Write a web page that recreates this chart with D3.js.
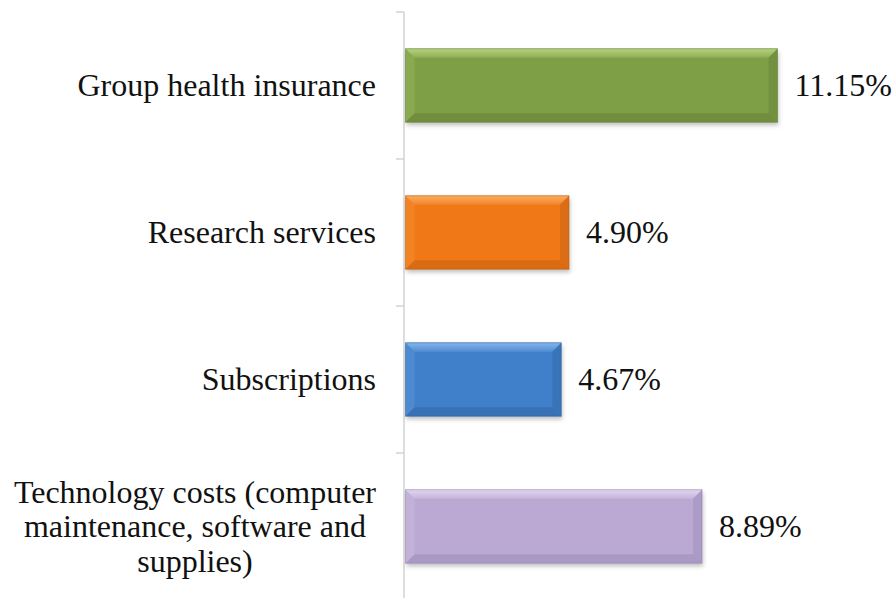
<!DOCTYPE html>
<html>
<head>
<meta charset="utf-8">
<script src="https://cdn.jsdelivr.net/npm/d3@7/dist/d3.min.js"></script>
<style>
  html, body { margin: 0; padding: 0; background: #fff; }
  svg { display: block; }
  text { font-family: "Liberation Serif", "Times New Roman", serif; fill: #111; }
</style>
</head>
<body>
<div id="chart"></div>
<script>
// data, top to bottom
const categories = [
  ['Group health insurance'],
  ['Research services'],
  ['Subscriptions'],
  ['Technology costs (computer', 'maintenance, software and', 'supplies)']
];
const values = [11.15, 4.90, 4.67, 8.89];
const valueLabels = ['11.15%', '4.90%', '4.67%', '8.89%'];
// main / light / dark shade of each bar
const barColors = [
  { main: '#7f9f46', light: '#b9d77f', dark: '#56702c' },
  { main: '#f07819', light: '#fcae62', dark: '#b0560f' },
  { main: '#3f7fc9', light: '#86b8ee', dark: '#2a5a93' },
  { main: '#bba9d4', light: '#e2d9f1', dark: '#8a7aa6' }
];

const width = 896, height = 598;
const axisX = 404;
const fontSize = 32;

const svg = d3.select('#chart').append('svg')
  .attr('width', width)
  .attr('height', height);

const defs = svg.append('defs');
const shadow = defs.append('filter').attr('id', 'shadow')
  .attr('x', '-5%').attr('y', '-10%').attr('width', '115%').attr('height', '130%');
shadow.append('feDropShadow')
  .attr('dx', 1).attr('dy', 3).attr('stdDeviation', 2)
  .attr('flood-color', '#000').attr('flood-opacity', 0.25);

const idx = d3.range(values.length);

const y = d3.scaleBand()
  .domain(idx)
  .range([12, 600])
  .paddingInner(0.5)
  .paddingOuter(0.25);

const x = d3.scaleLinear()
  .domain([0, 14])
  .range([axisX + 1.5, axisX + 1.5 + 14 * 33.36]);

// axis line + ticks at category boundaries
const axisG = svg.append('g').attr('stroke', '#cccccc').attr('stroke-width', 1.3);
axisG.append('line')
  .attr('x1', axisX).attr('x2', axisX)
  .attr('y1', y.range()[0]).attr('y2', y.range()[1]);
d3.range(values.length + 1).forEach(i => {
  const ty = y.range()[0] + i * y.step();
  axisG.append('line')
    .attr('x1', axisX - 8).attr('x2', axisX)
    .attr('y1', ty).attr('y2', ty);
});

// bars with soft bevel
const bev = 9;
const bars = svg.append('g').selectAll('g')
  .data(idx)
  .enter()
  .append('g');

bars.each(function(i) {
  const g = d3.select(this);
  const x0 = x(0), x1 = x(values[i]);
  const y0 = y(i), y1 = y(i) + y.bandwidth();
  const c = barColors[i];

  // vertical gradient for the top bevel
  const gid = 'top' + i;
  const lg = defs.append('linearGradient').attr('id', gid)
    .attr('x1', 0).attr('x2', 0).attr('y1', 0).attr('y2', 1);
  lg.append('stop').attr('offset', 0).attr('stop-color', c.light).attr('stop-opacity', 0.95);
  lg.append('stop').attr('offset', 1).attr('stop-color', c.light).attr('stop-opacity', 0.25);

  g.append('rect')
    .attr('x', x0).attr('y', y0)
    .attr('width', x1 - x0).attr('height', y1 - y0)
    .attr('fill', c.main)
    .attr('filter', 'url(#shadow)');

  const poly = (pts, fill, op) => g.append('polygon')
    .attr('points', pts.map(p => p.join(',')).join(' '))
    .attr('fill', fill)
    .attr('opacity', op);

  poly([[x0, y0], [x1, y0], [x1 - bev, y0 + bev], [x0 + bev, y0 + bev]], `url(#${gid})`, 1);
  poly([[x0, y1], [x1, y1], [x1 - bev, y1 - bev], [x0 + bev, y1 - bev]], c.dark, 0.35);
  poly([[x0, y0], [x0 + bev, y0 + bev], [x0 + bev, y1 - bev], [x0, y1]], c.light, 0.2);
  poly([[x1, y0], [x1 - bev, y0 + bev], [x1 - bev, y1 - bev], [x1, y1]], c.dark, 0.3);

  g.append('rect')
    .attr('x', x0).attr('y', y0)
    .attr('width', x1 - x0).attr('height', y1 - y0)
    .attr('fill', 'none')
    .attr('stroke', c.dark)
    .attr('stroke-opacity', 0.5)
    .attr('stroke-width', 1);
});

// value labels
svg.append('g').selectAll('text')
  .data(idx)
  .enter()
  .append('text')
  .attr('x', i => x(values[i]) + 17)
  .attr('y', i => y(i) + y.bandwidth() / 2)
  .attr('dy', '0.34em')
  .attr('font-size', fontSize)
  .text(i => valueLabels[i]);

// category labels, lines centred in a right-aligned block
const lineH = 34.5;
const labelRight = 376;
svg.append('g').selectAll('text')
  .data(idx)
  .enter()
  .append('text')
  .attr('font-size', fontSize)
  .attr('text-anchor', 'middle')
  .each(function(i) {
    const t = d3.select(this);
    const lines = categories[i];
    const cy = y(i) + y.bandwidth() / 2;
    lines.forEach((ln, k) => {
      t.append('tspan')
        .attr('y', cy + (k - (lines.length - 1) / 2) * lineH)
        .attr('dy', '0.34em')
        .text(ln);
    });
    let maxW = 0;
    t.selectAll('tspan').each(function() {
      maxW = Math.max(maxW, this.getComputedTextLength());
    });
    t.selectAll('tspan').attr('x', labelRight - maxW / 2);
  });
</script>
</body>
</html>
